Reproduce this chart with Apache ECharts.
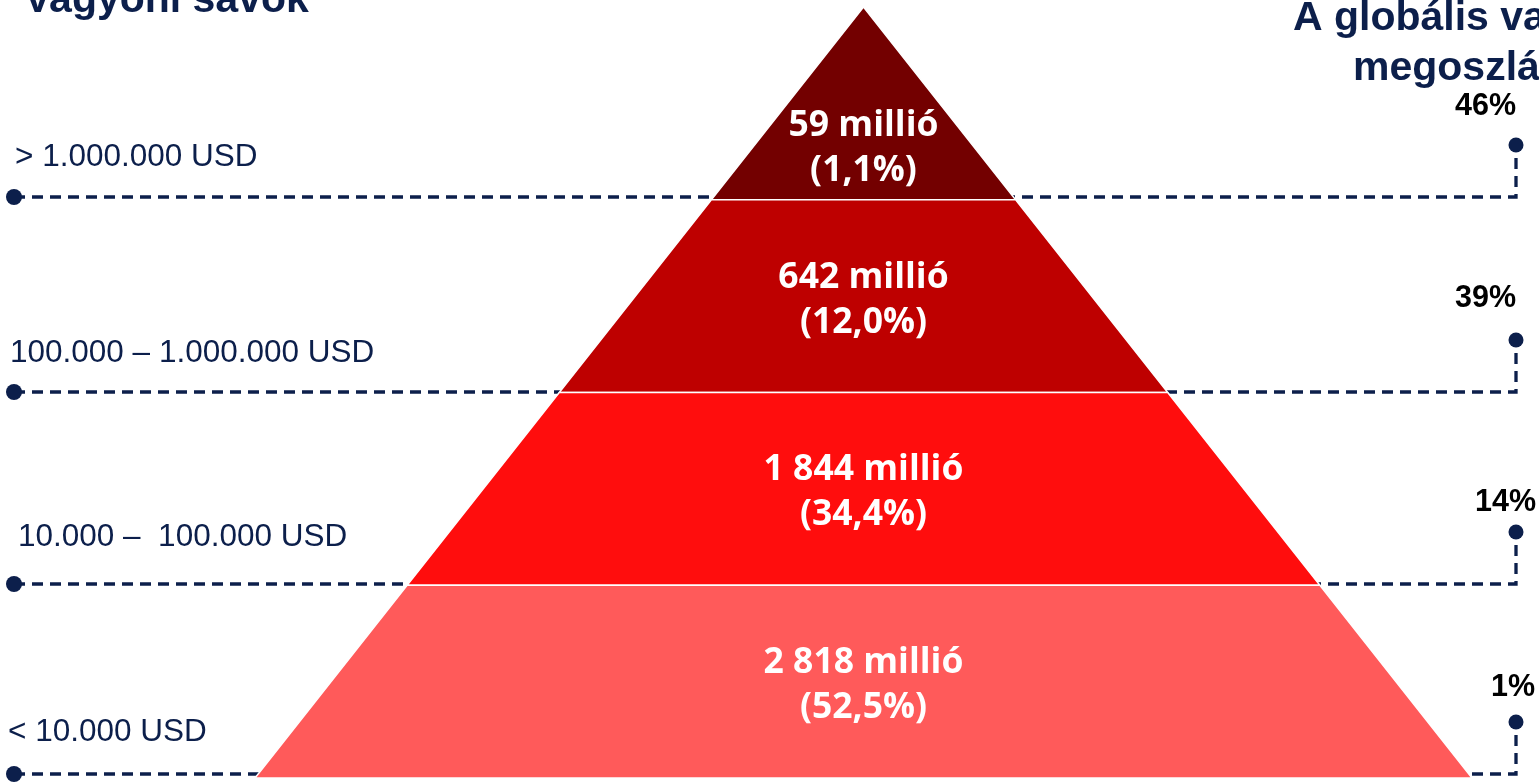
<!DOCTYPE html>
<html>
<head>
<meta charset="utf-8">
<script src="https://cdn.jsdelivr.net/npm/echarts@6/dist/echarts.min.js"></script>
<style>
  html, body { margin: 0; padding: 0; background: #fff; }
  #chart { width: 1539px; height: 782px; }
</style>
</head>
<body>
<div id="chart"></div>
<script>
// wealth bands, top of the pyramid first
const bands = ['> 1.000.000 USD', '100.000 – 1.000.000 USD', '10.000 –  100.000 USD', '< 10.000 USD'];
const adults = [59, 642, 1844, 2818];        // millió fő
const adultShare = [1.1, 12.0, 34.4, 52.5];   // % of adults
const wealthShare = [46, 39, 14, 1];          // % of global wealth
const tier = [1, 2, 3, 4];                    // pyramid step (schematic width)

const colors = ['#730000', '#be0000', '#ff0d0d', '#ff5a5a'];
const navy = '#0c1f4b';

function fmtInt(n) {
  return String(n).replace(/\B(?=(\d{3})+(?!\d))/g, ' ');
}
function fmtPct(v) {
  return v.toFixed(1).replace('.', ',') + '%';
}

// dashed guide lines at the band floors
const lineY = [197, 392, 584, 774];
const leftDotX = 14, rightX = 1516, rise = 52;
const leftLabelY = [157, 353, 537, 732];
const leftLabelX = [15, 10, 18, 8];
const pctPos = [[1516, 107], [1516, 299], [1536, 503], [1535, 688]];

const graphics = [];
lineY.forEach(function (y, i) {
  graphics.push({
    type: 'polyline', z: 0,
    shape: { points: [[leftDotX, y], [rightX, y], [rightX, y - rise]] },
    style: { stroke: navy, lineWidth: 3.3, lineDash: [11, 7], fill: null }
  });
  graphics.push({ type: 'circle', z: 1, shape: { cx: leftDotX, cy: y, r: 8 }, style: { fill: navy } });
  graphics.push({ type: 'circle', z: 1, shape: { cx: rightX, cy: y - rise, r: 7.5 }, style: { fill: navy } });
  graphics.push({
    type: 'text', z: 1, x: leftLabelX[i], y: leftLabelY[i],
    style: { text: bands[i], fill: navy, font: '31.5px "Liberation Sans", Arial, sans-serif', align: 'left', verticalAlign: 'middle' }
  });
  graphics.push({
    type: 'text', z: 1, x: pctPos[i][0], y: pctPos[i][1],
    style: { text: wealthShare[i] + '%', fill: '#000', font: 'bold 30.5px "Liberation Sans", Arial, sans-serif', align: 'right', verticalAlign: 'middle' }
  });
});

// titles, clipped by the page edges like the original slide crop
graphics.push({
  type: 'text', x: 24, y: 1,
  style: { text: 'Vagyoni sávok', fill: navy, font: 'bold 41px "Liberation Sans", Arial, sans-serif', align: 'left', verticalAlign: 'middle' }
});
graphics.push({
  type: 'text', x: 1293, y: 19,
  style: { text: 'A globális vagyon', fill: navy, font: 'bold 41px "Liberation Sans", Arial, sans-serif', align: 'left', verticalAlign: 'middle' }
});
graphics.push({
  type: 'text', x: 1353, y: 69,
  style: { text: 'megoszlása', fill: navy, font: 'bold 41px "Liberation Sans", Arial, sans-serif', align: 'left', verticalAlign: 'middle' }
});

const chart = echarts.init(document.getElementById('chart'), null, { renderer: 'canvas' });

chart.setOption({
  backgroundColor: '#fff',
  animation: false,
  graphic: graphics,
  series: [{
    type: 'funnel',
    z: 5,
    left: 255, top: 7, width: 1217, height: 771,
    min: 0, max: 4,
    minSize: '0%', maxSize: '100%',
    sort: 'ascending',
    gap: 0,
    silent: true,
    itemStyle: { borderColor: '#fff', borderWidth: 1.5 },
    label: {
      show: true,
      position: 'inside',
      color: '#fff',
      fontFamily: '"Open Sans", sans-serif',
      fontWeight: 'bold',
      fontSize: 35.5,
      lineHeight: 45,
      formatter: function (p) {
        const i = p.dataIndex;
        return fmtInt(adults[i]) + ' millió\n(' + fmtPct(adultShare[i]) + ')';
      }
    },
    // the apex label sits low in the triangle
    labelLayout: function (p) {
      return { dy: p.dataIndex === 0 ? 45 : 4 };
    },
    labelLine: { show: false },
    emphasis: { disabled: true },
    data: bands.map(function (b, i) {
      return { name: b, value: tier[i], itemStyle: { color: colors[i] } };
    })
  }]
});
</script>
</body>
</html>
